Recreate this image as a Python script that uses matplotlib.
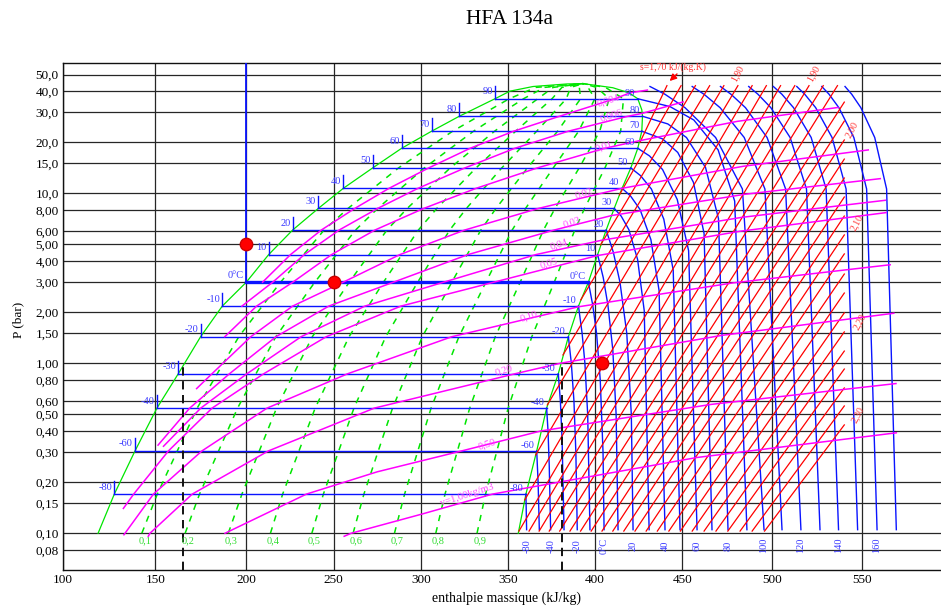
import matplotlib
matplotlib.use("Agg")
import numpy as np
import matplotlib.pyplot as plt
from matplotlib.ticker import FixedLocator, FixedFormatter, NullLocator

plt.rcParams['font.family'] = ['Liberation Serif', 'DejaVu Serif']
plt.rcParams['lines.scale_dashes'] = False

# ---------------- data ----------------
# saturation dome: liquid branch -> critical point -> vapour branch (h kJ/kg, P bar)
dome_h = [119.0, 127.8, 139.0, 150.9, 162.6, 174.9, 186.8, 200.0, 212.8, 226.5, 241.2, 255.5,
          272.3, 288.9, 306.1, 322.0, 342.5, 351.1, 364.4, 383.9, 393.1, 410.2, 419.5, 424.5,
          426.8, 427.2, 426.8, 424.5, 420.5, 415.5, 411.0, 406.4, 401.5, 396.2, 390.5, 384.7,
          378.9, 372.2, 366.5, 360.3, 355.9]
dome_p = [0.10, 0.17, 0.305, 0.545, 0.867, 1.434, 2.17, 3.0, 4.36, 6.08, 8.15, 10.7,
          14.1, 18.4, 23.2, 28.4, 36.0, 39.9, 42.5, 44.0, 44.2, 41.8, 39.0, 36.0,
          31.0, 28.4, 23.2, 18.4, 14.1, 10.7, 8.15, 6.08, 4.36, 3.0, 2.17, 1.434,
          0.867, 0.545, 0.305, 0.17, 0.10]

# two-phase isotherms
tp_labels = ['-80', '-60', '-40', '-30', '-20', '-10', '0°C', '10', '20', '30', '40', '50',
             '60', '70', '80', '90']
tp_p = [0.17, 0.305, 0.545, 0.867, 1.434, 2.17, 3.0, 4.36, 6.08, 8.15, 10.7, 14.1,
        18.4, 23.2, 28.4, 36.0]
tp_hl = [127.8, 139.0, 150.9, 162.6, 174.9, 186.8, 200.0, 212.8, 226.5, 241.2, 255.5, 272.3,
         288.9, 306.1, 322.0, 342.5]
tp_hv = [360.3, 366.5, 372.2, 378.9, 384.7, 390.5, 396.2, 401.5, 406.4, 411.0, 415.5, 420.5,
         424.5, 426.8, 427.2, 424.5]

# vapour quality lines (dashed)
q_labels = ['0,1', '0,2', '0,3', '0,4', '0,5', '0,6', '0,7', '0,8', '0,9']
q_p = [0.10, 0.17, 0.545, 1.434, 3.0, 6.08, 8.15, 14.1, 23.2, 36.0, 42.0, 44.2]
q_h = [
    [142.7, 151.1, 173.0, 195.9, 219.6, 244.5, 258.2, 287.1, 318.2, 350.7, 366.0, 393.1],
    [166.4, 174.3, 195.2, 216.9, 239.2, 262.5, 275.2, 301.9, 330.2, 358.9, 371.0, 393.1],
    [190.1, 197.6, 217.3, 237.8, 258.9, 280.5, 292.1, 316.8, 342.3, 367.1, 376.0, 393.1],
    [213.8, 220.8, 239.4, 258.8, 278.5, 298.5, 309.1, 331.6, 354.4, 375.3, 381.0, 393.1],
    [237.5, 244.1, 261.6, 279.8, 298.1, 316.5, 326.1, 346.4, 366.5, 383.5, 386.0, 393.1],
    [261.1, 267.3, 283.7, 300.8, 317.7, 334.4, 343.1, 361.2, 378.5, 391.7, 391.0, 393.1],
    [284.8, 290.6, 305.8, 321.8, 337.3, 352.4, 360.1, 376.0, 390.6, 399.9, 396.0, 393.1],
    [308.5, 313.8, 328.0, 342.7, 357.0, 370.4, 377.0, 390.9, 402.7, 408.1, 401.0, 393.1],
    [332.2, 337.1, 350.1, 363.7, 376.6, 388.4, 394.0, 405.7, 414.7, 416.3, 406.0, 393.1],
]

# superheated-vapour isotherms: label, label shown at bottom, pressures, enthalpies
vap_labels = ['-80', '-60', '-40', '-30', '-20', '-10', '0°C', '10', '20', '30', '40', '50',
              '60', '70', '80', '90', '100', '110', '120', '130', '140', '150', '160', '170']
vap_show = [True, False, True, False, True, False, True, False, True, False, True, False,
            True, False, True, False, True, False, True, False, True, False, True, False]
vap_p = [
    [0.17, 0.105],
    [0.305, 0.2, 0.105],
    [0.545, 0.4, 0.25, 0.105],
    [0.867, 0.6, 0.35, 0.105],
    [1.434, 1.0, 0.6, 0.3, 0.105],
    [2.17, 1.5, 1.0, 0.5, 0.105],
    [3.0, 2.2, 1.5, 0.8, 0.3, 0.105],
    [4.36, 3.2, 2.2, 1.2, 0.5, 0.105],
    [6.08, 4.5, 3.0, 1.5, 0.5, 0.105],
    [8.15, 7.34, 6.11, 4.08, 2.04, 0.105],
    [10.7, 9.63, 8.03, 5.35, 2.68, 0.105],
    [14.1, 12.7, 10.6, 7.05, 3.53, 0.105],
    [18.4, 16.6, 13.8, 9.2, 4.6, 0.105],
    [23.2, 20.9, 17.4, 11.6, 5.8, 0.105],
    [28.4, 25.6, 21.3, 14.2, 7.1, 0.105],
    [36.0, 32.4, 27.0, 18.0, 9.0, 0.105],
    [42.5, 38.3, 31.9, 21.3, 10.6, 0.105],
    [42.5, 38.3, 31.9, 21.3, 10.6, 0.105],
    [42.5, 38.3, 31.9, 21.3, 10.6, 0.105],
    [42.5, 38.3, 31.9, 21.3, 10.6, 0.105],
    [42.5, 38.3, 31.9, 21.3, 10.6, 0.105],
    [42.5, 38.3, 31.9, 21.3, 10.6, 0.105],
    [42.5, 38.3, 31.9, 21.3, 10.6, 0.105],
    [42.5, 38.3, 31.9, 21.3, 10.6, 0.105],
]
vap_h = [
    [360.3, 360.7],
    [366.5, 367.3, 368.0],
    [372.2, 373.0, 373.7, 374.5],
    [378.9, 380.1, 381.1, 382.2],
    [384.7, 386.4, 387.9, 389.0, 389.8],
    [390.5, 392.6, 394.2, 395.8, 397.1],
    [396.2, 398.7, 400.9, 403.0, 404.6, 405.2],
    [401.5, 404.7, 407.4, 410.2, 412.1, 413.2],
    [406.4, 410.5, 414.3, 418.2, 420.8, 421.8],
    [411.0, 415.0, 419.4, 424.4, 428.2, 431.0],
    [415.5, 420.4, 425.8, 432.0, 436.7, 440.1],
    [420.5, 426.1, 432.3, 439.4, 444.8, 448.7],
    [424.5, 431.2, 438.7, 447.1, 453.5, 458.2],
    [426.8, 438.7, 447.4, 456.2, 462.1, 466.5],
    [427.2, 441.7, 452.3, 462.9, 470.1, 475.4],
    [424.5, 442.9, 456.4, 469.9, 479.1, 485.9],
    [431.5, 440.0, 451.5, 468.5, 483.4, 495.4],
    [455.5, 462.0, 471.0, 484.4, 495.9, 505.4],
    [471.2, 477.0, 485.1, 497.1, 507.4, 515.9],
    [486.9, 492.0, 499.2, 509.9, 519.0, 526.5],
    [500.6, 505.3, 511.8, 521.6, 529.9, 536.8],
    [513.6, 518.0, 524.1, 533.2, 541.0, 547.4],
    [527.5, 531.5, 537.0, 545.3, 552.4, 558.2],
    [540.4, 544.1, 549.2, 556.9, 563.5, 568.9],
]

# isentropes s = 1,70 ... 2,30 kJ/(kg.K): start and end points
s_values = [1.70, 1.72, 1.74, 1.76, 1.78, 1.80, 1.82, 1.84, 1.86, 1.88, 1.90, 1.92, 1.94,
            1.96, 1.98, 2.00, 2.02, 2.04, 2.06, 2.08, 2.10, 2.12, 2.14, 2.16, 2.18, 2.20,
            2.22, 2.24, 2.26, 2.28, 2.30]
s_h0 = [425.8, 414.0, 403.2, 391.8, 381.6, 372.6, 365.9, 359.6,
        356.3, 362.1, 367.9, 373.7, 379.7, 385.6, 391.7, 397.8, 404.0, 410.2, 416.5, 422.9,
        429.3, 435.7, 442.3, 448.9, 455.5, 462.1, 468.7, 475.3, 482.1, 488.8, 495.7]
s_p0 = [20.0, 9.8, 4.97, 2.36, 1.12, 0.569, 0.289, 0.157] + [0.103] * 23
s_h1 = [441.2, 449.3, 457.3, 465.2, 473.1, 480.9, 488.8, 496.7, 504.6, 512.5, 520.4, 528.3,
        536.2] + [540.0] * 18
s_p1 = [43.0] * 13 + [34.4, 26.6, 20.6, 15.9, 12.3, 9.51, 7.35, 5.69, 4.40, 3.35, 2.59, 1.98,
                      1.53, 1.18, 0.925, 0.716, 0.561, 0.434]
s_label_vals = ['1,80', '1,90', '2,00', '2,10', '2,20', '2,30']
s_label_h = [480.9, 522.8, 544.3, 547.1, 548.9, 547.8]
s_label_p = [51.0, 51.0, 23.6, 6.69, 1.76, 0.497]

# isochores (magenta)
v_labels = ['0,004', '0,006', '0,01', '0,02', '0,03', '0,04', '0,05', '0,10', '0,20', '0,50',
            'v=1,00kg/m3']
v_h = [
    [209.3, 225.3, 242.9, 262.1, 281.7, 304.4, 328.2, 353.3, 379.6, 411.4, 420.0, 430.0],
    [197.6, 215.1, 233.2, 253.1, 275.2, 298.3, 325.2, 353.9, 384.7, 418.8, 426.8, 450.5],
    [188.2, 205.9, 226.6, 248.8, 273.6, 301.6, 331.7, 366.8, 405.5, 424.5, 480.5, 536.5],
    [172.7, 181.1, 202.6, 226.5, 255.4, 287.9, 325.1, 367.5, 415.5, 484.0, 553.3],
    [151.5, 168.9, 190.7, 217.0, 247.2, 284.2, 327.0, 376.5, 409.5, 485.0, 560.0],
    [154.5, 175.0, 200.3, 231.4, 267.9, 313.0, 366.0, 404.0, 483.0, 562.8],
    [132.7, 138.3, 157.2, 181.2, 209.9, 245.8, 288.5, 341.9, 401.3, 482.0, 563.2],
    [133.0, 149.0, 175.6, 211.9, 257.9, 317.8, 390.5, 478.0, 565.5],
    [146.2, 147.1, 170.3, 212.6, 273.3, 353.9, 380.0, 472.0, 567.5],
    [188.3, 234.4, 275.0, 323.3, 369.0, 466.0, 568.7],
    [256.0, 260.0, 300.9, 341.1, 361.0, 458.0, 568.9],
]
v_p = [
    [3.0, 4.36, 6.08, 8.15, 10.7, 14.1, 18.4, 23.2, 28.4, 36.0, 39.0, 40.5],
    [2.17, 3.0, 4.36, 6.08, 8.15, 10.7, 14.1, 18.4, 23.2, 28.4, 29.5, 34.5],
    [1.434, 2.17, 3.0, 4.36, 6.08, 8.15, 10.7, 14.1, 18.4, 20.3, 26.5, 32.0],
    [0.71, 0.867, 1.434, 2.17, 3.0, 4.36, 6.08, 8.15, 10.7, 14.43, 18.0],
    [0.33, 0.545, 0.867, 1.434, 2.17, 3.0, 4.36, 6.08, 7.4, 9.88, 12.2],
    [0.325, 0.545, 0.867, 1.434, 2.17, 3.0, 4.36, 5.3, 7.22, 9.1],
    [0.14, 0.17, 0.305, 0.545, 0.867, 1.434, 2.17, 3.0, 4.3, 5.98, 7.7],
    [0.098, 0.17, 0.305, 0.545, 0.867, 1.434, 2.15, 2.97, 3.8],
    [0.096, 0.10, 0.17, 0.305, 0.545, 0.867, 1.0, 1.46, 1.97],
    [0.10, 0.17, 0.23, 0.305, 0.40, 0.573, 0.76],
    [0.096, 0.10, 0.13, 0.17, 0.185, 0.279, 0.39],
]
v_lab_h = [407.4, 409.5, 405.2, 393.7, 386.8, 379.3, 373.6, 362.1, 347.7, 337.8, 326.3]
v_lab_p = [35.4, 28.6, 19.0, 10.0, 6.78, 5.03, 3.89, 1.90, 0.914, 0.335, 0.168]

# marked points and reference lines
pts_h = [200.0, 250.0, 403.8]
pts_p = [5.0, 3.0, 1.0]
dash_h = [165.1, 381.2]
dash_ptop = [1.0, 0.98]

ytick_vals = [0.08, 0.10, 0.15, 0.20, 0.30, 0.40, 0.50, 0.60, 0.80, 1.00, 1.50, 2.00, 3.00,
              4.00, 5.00, 6.00, 8.00, 10.0, 15.0, 20.0, 30.0, 40.0, 50.0]
ytick_text = ['0,08', '0,10', '0,15', '0,20', '0,30', '0,40', '0,50', '0,60', '0,80', '1,00',
              '1,50', '2,00', '3,00', '4,00', '5,00', '6,00', '8,00', '10,0', '15,0', '20,0',
              '30,0', '40,0', '50,0']
xtick_vals = [100, 150, 200, 250, 300, 350, 400, 450, 500, 550]

# ---------------- x scale of the original diagram (graduations are not evenly spaced) ----------------
SCALE_H = np.array([100, 150, 200, 250, 300, 350, 400, 450, 500, 550, 600], dtype=float)
SCALE_U = np.array([0.0, 92.3, 183.3, 270.7, 358.0, 445.0, 532.0, 619.3, 709.3, 799.3, 889.3])


def h_fwd(h):
    return np.interp(np.asarray(h, dtype=float), SCALE_H, SCALE_U)


def h_inv(u):
    return np.interp(np.asarray(u, dtype=float), SCALE_U, SCALE_H)


# ---------------- drawing ----------------
GREEN = '#00e600'
BLUE = '#0a14ff'
LBLUE = '#3a3aff'
RED = '#ff0000'
MAG = '#ff00ff'

fig = plt.figure(figsize=(9.41, 6.07), dpi=100)
ax = fig.add_axes([63 / 941, 1 - 570 / 607, (941 - 63) / 941, (570 - 63.3) / 607])
ax.set_xscale('function', functions=(h_fwd, h_inv))
ax.set_yscale('log')
ax.set_xlim(100, float(h_inv(878.0)))
ax.set_ylim(0.0608, 58.2)

ax.yaxis.set_major_locator(FixedLocator(ytick_vals))
ax.yaxis.set_major_formatter(FixedFormatter(ytick_text))
ax.yaxis.set_minor_locator(NullLocator())
ax.xaxis.set_major_locator(FixedLocator(xtick_vals))
ax.xaxis.set_major_formatter(FixedFormatter([str(v) for v in xtick_vals]))
ax.xaxis.set_minor_locator(NullLocator())
ax.tick_params(length=0, labelsize=9.5, pad=3)
ax.grid(True, color='#262626', lw=0.9)
ax.set_axisbelow(True)
for side in ['left', 'bottom', 'top']:
    ax.spines[side].set_color('#111111')
    ax.spines[side].set_linewidth(1.0)
ax.spines['right'].set_visible(False)

# quality lines
for lab, hh in zip(q_labels, q_h):
    ax.plot(hh, q_p, color=GREEN, lw=1.1, dashes=(4.5, 4.5), zorder=2)
    ax.text(hh[0] + 1.5, 0.0905, lab, color='#33dd33', fontsize=7.5, ha='center', va='center', zorder=6)

# dome
ax.plot(dome_h, dome_p, color=GREEN, lw=0.9, zorder=3)

# two-phase isotherms
for lab, p, hl, hv in zip(tp_labels, tp_p, tp_hl, tp_hv):
    thick = 2.4 if lab == '0°C' else 1.0
    ax.plot([hl, hv], [p, p], color=BLUE, lw=thick, zorder=3)
    if lab != '0°C':
        ax.plot([hl, hl], [p, p * 1.19], color=BLUE, lw=1.0, zorder=3)
    ax.text(hl - 1.2, p * 1.10, lab, color=LBLUE, fontsize=7.5, ha='right', va='center', zorder=6)
    ax.text(hv - 1.5, p * 1.015, lab, color=LBLUE, fontsize=7.5, ha='right', va='bottom', zorder=6)

# vertical blue line from 0°C liquid point
ax.plot([200.0, 200.0], [3.0, 58.2], color=BLUE, lw=1.3, zorder=3)

# vapour isotherms
for lab, show, pp, hh in zip(vap_labels, vap_show, vap_p, vap_h):
    ax.plot(hh, pp, color=BLUE, lw=1.0, zorder=3)
    if show:
        ax.text(hh[-1], 0.0845, lab, color=LBLUE, fontsize=7.5, rotation=90,
                ha='center', va='center', zorder=6)

# isentropes
for h0, p0, h1, p1 in zip(s_h0, s_p0, s_h1, s_p1):
    ax.plot([h0, h1], [p0, p1], color=RED, lw=0.9, zorder=4)
for lab, hh, pp in zip(s_label_vals, s_label_h, s_label_p):
    ax.text(hh, pp, lab, color='#ff3333', fontsize=7, rotation=62, ha='center', va='center', zorder=6)
ax.text(426.0, 55.5, 's=1,70 kJ/(kg.K)', color='#ff3333', fontsize=7, ha='left', va='center', zorder=6)
ax.annotate('', xy=(441.6, 44.6), xytext=(448.1, 51.7),
            arrowprops=dict(arrowstyle='-|>', color=RED, lw=1.0, mutation_scale=10), zorder=6)

# isochores
for lab, hh, pp, lh, lp in zip(v_labels, v_h, v_p, v_lab_h, v_lab_p):
    ax.plot(hh, pp, color=MAG, lw=1.1, zorder=5)
    ax.text(lh, lp, lab, color='#ff44ff', fontsize=7.5, rotation=18, ha='center', va='center', zorder=6)

# dashed reference lines
for hd, pt in zip(dash_h, dash_ptop):
    ax.plot([hd, hd], [0.0608, pt], color='#111111', lw=1.4, dashes=(6, 4), zorder=5)

# marked points
ax.scatter(pts_h, pts_p, s=80, color='#ff0000', edgecolor='#cc0000', zorder=8)

# texts
fig.text(0.541, 1 - 20 / 607, 'HFA 134a', ha='center', va='center', fontsize=15.5)
fig.text(506.7 / 941, 1 - 598 / 607, 'enthalpie massique (kJ/kg)', ha='center', va='center', fontsize=10)
fig.text(18 / 941, 1 - 320 / 607, 'P (bar)', ha='center', va='center', fontsize=9.5, rotation=90)

fig.savefig('out.png', dpi=100)
